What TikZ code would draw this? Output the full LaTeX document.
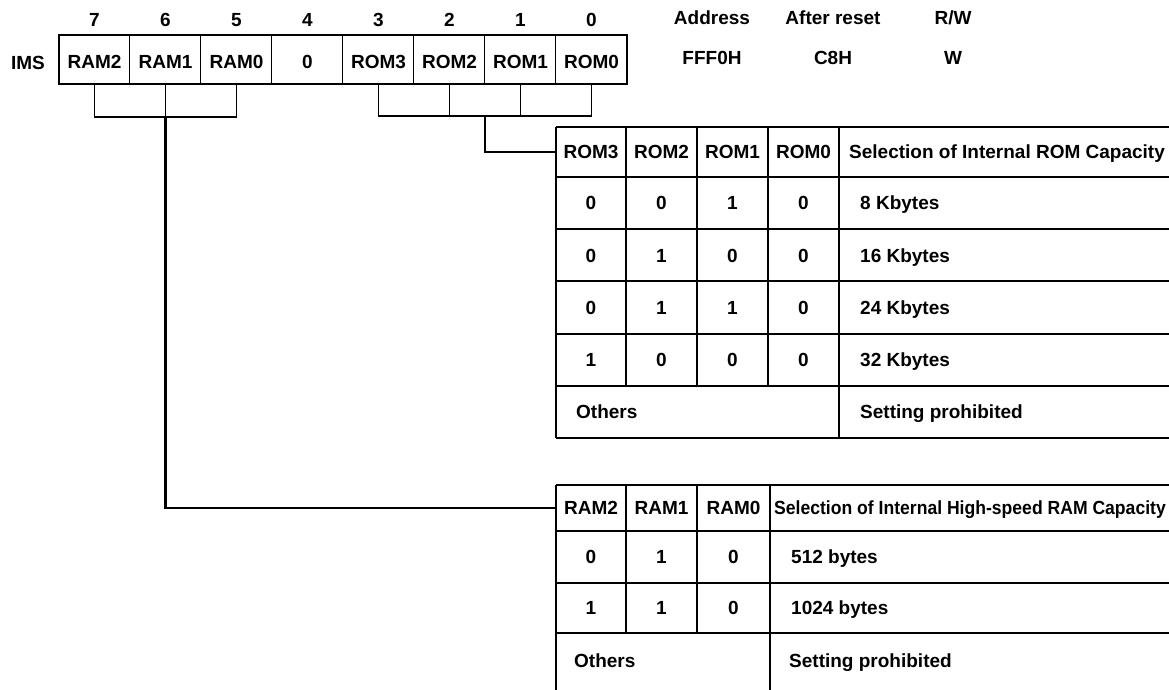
\documentclass[tikz,border=0pt]{standalone}
\usepackage{fontspec}
\setmainfont{Liberation Sans}
\begin{document}
\begin{tikzpicture}[x=1pt,y=-1pt,
  every node/.style={font=\fontsize{19}{19}\selectfont\bfseries, inner sep=0pt, text height=13.6pt, text depth=0pt},
  regcell/.style={minimum width=71pt, minimum height=49pt},
  thickline/.style={line width=2.5pt},
  thinline/.style={line width=1.2pt},
  bracket/.style={line width=1.6pt},
  lead/.style={line width=2.2pt},
  desc/.style={anchor=west},
  ]
\useasboundingbox (0,0) rectangle (1169,690);

% ---------- register ----------
\node (ims) at (28,63) {IMS};
\foreach \t [count=\i from 0] in {RAM2,RAM1,RAM0,0,ROM3,ROM2,ROM1,ROM0} {
  \pgfmathtruncatemacro\bit{7-\i}
  \node[regcell] (b\bit) at ({94.5+71*\i},59.5) {};
  \node (t\bit) at ({94.5+71*\i},62) {\t};
  \node (n\bit) at ({94.5+71*\i},20) {\bit};
}
\foreach \i in {6,...,0} \draw[thinline] (b\i.north west) -- (b\i.south west);
\draw[thickline] (b7.north west) rectangle (b0.south east);

\node (addr) at (712,18) {Address};
\node (rst)  at (833,18) {After reset};
\node (rw)   at (953,18) {R/W};
\node (addrv) at (712,58) {FFF0H};
\node (rstv)  at (833,58) {C8H};
\node (rwv)   at (953,58) {W};

% ---------- brackets and leads ----------
\coordinate (ramjoin) at (165.5,117);
\coordinate (romjoin) at (485,116);
\coordinate (ramhead) at (556,508);
\coordinate (romhead) at (556,152);
\draw[bracket] (b7.south) |- (b5.south |- ramjoin) -- (b5.south);
\draw[bracket] (b6.south) -- (ramjoin);
\draw[bracket] (b3.south) |- (b0.south |- romjoin) -- (b0.south);
\draw[bracket] (b2.south) -- (b2.south |- romjoin);
\draw[bracket] (b1.south) -- (b1.south |- romjoin);
\draw[lead] (ramjoin) |- (ramhead);
\draw[lead] (romjoin) |- (romhead);

% ---------- ROM table ----------
\foreach \y in {127,177,229,281,334,386,438} \draw[thickline] (556,\y) -- (1169,\y);
\draw[thickline] (556,127) -- (556,438);
\draw[thickline] (839,127) -- (839,438);
\foreach \x in {626,697,768} \draw[thinline] (\x,127) -- (\x,386);
\node (rh3) at (591,152) {ROM3};
\node (rh2) at (661.5,152) {ROM2};
\node (rh1) at (732.5,152) {ROM1};
\node (rh0) at (803.5,152) {ROM0};
\node[desc] (rhd) at (849,152) {Selection of Internal ROM Capacity};
\foreach \a/\b/\c/\d/\txt [count=\r] in {0/0/1/0/8 Kbytes,0/1/0/0/16 Kbytes,0/1/1/0/24 Kbytes,1/0/0/0/32 Kbytes} {
  \pgfmathsetmacro\yy{203+52.25*(\r-1)}
  \node (ra\r) at (591,\yy) {\a};
  \node (rb\r) at (661.5,\yy) {\b};
  \node (rc\r) at (732.5,\yy) {\c};
  \node (rd\r) at (803.5,\yy) {\d};
  \node[desc] (rt\r) at (860,\yy) {\txt};
}
\node[desc] (roth) at (576,412) {Others};
\node[desc] (rproh) at (860,412) {Setting prohibited};

% ---------- RAM table ----------
\foreach \y in {485,531,583,633} \draw[thickline] (556,\y) -- (1169,\y);
\draw[thickline] (556,485) -- (556,690);
\draw[thickline] (770,485) -- (770,690);
\foreach \x in {626,697} \draw[thinline] (\x,485) -- (\x,633);
\node (mh2) at (591,508) {RAM2};
\node (mh1) at (661.5,508) {RAM1};
\node (mh0) at (733.5,508) {RAM0};
\node[desc, xscale=0.925] (mhd) at (774,508) {Selection of Internal High-speed RAM Capacity};
\node (ma1) at (591,557) {0};
\node (mb1) at (661.5,557) {1};
\node (mc1) at (733.5,557) {0};
\node[desc] (mt1) at (791,557) {512 bytes};
\node (ma2) at (591,608) {1};
\node (mb2) at (661.5,608) {1};
\node (mc2) at (733.5,608) {0};
\node[desc] (mt2) at (791,608) {1024 bytes};
\node[desc] (moth) at (574,661) {Others};
\node[desc] (mproh) at (789,661) {Setting prohibited};
\end{tikzpicture}
\end{document}
